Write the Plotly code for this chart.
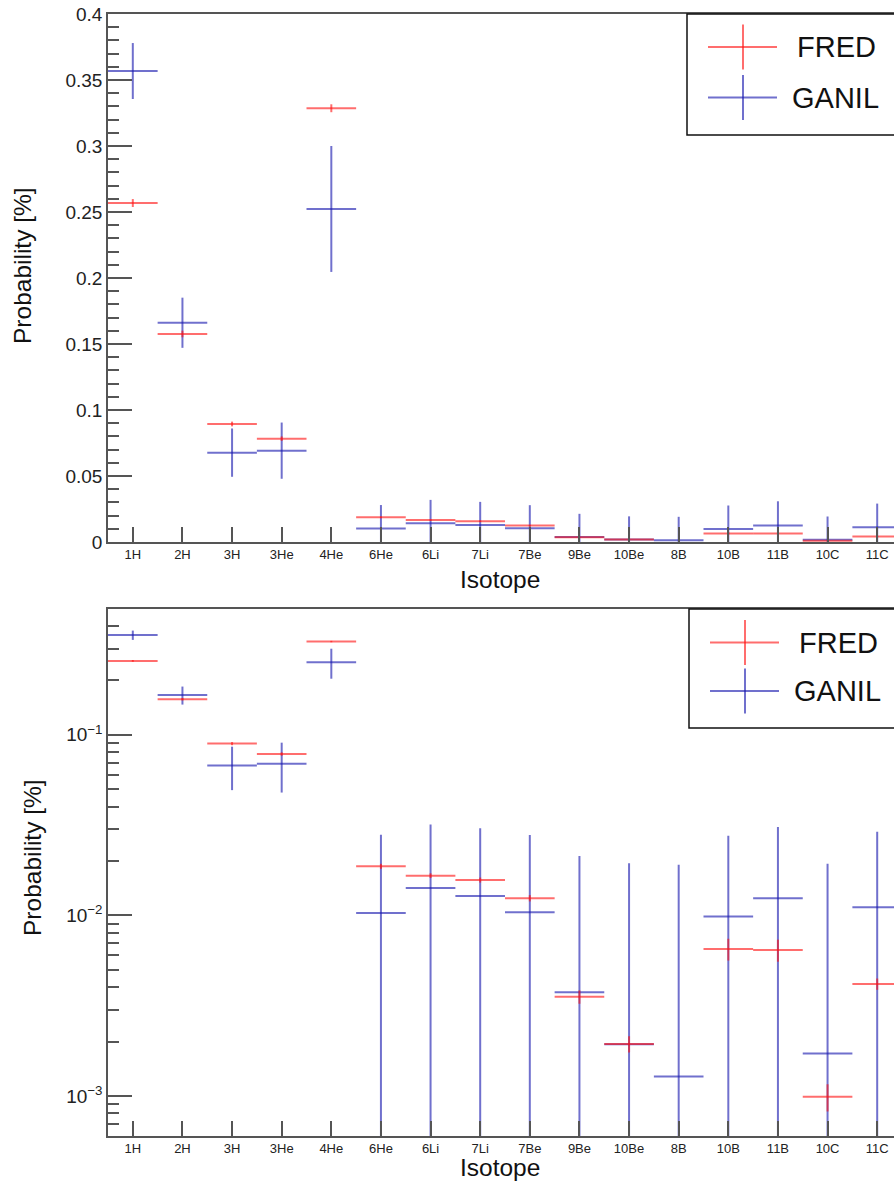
import plotly.graph_objects as go

# Isotope production probabilities: FRED simulation vs GANIL measurement
isotopes = ["1H", "2H", "3H", "3He", "4He", "6He", "6Li", "7Li", "7Be",
            "9Be", "10Be", "8B", "10B", "11B", "10C", "11C"]

fred = [0.2568, 0.1576, 0.0894, 0.0783, 0.3286, 0.0187, 0.0166, 0.0157, 0.01245,
        0.00354, 0.00194, None, 0.00652, 0.00644, 0.00099, 0.00417]
fred_err = [0.0030, 0.0025, 0.0018, 0.0017, 0.0030, 0.0006, 0.0005, 0.0005, 0.0005,
            0.0003, 0.0002, 0.0, 0.0009, 0.0009, 0.00017, 0.0003]

ganil = [0.3568, 0.1661, 0.0677, 0.0692, 0.2523, 0.0103, 0.0142, 0.0128, 0.0104,
         0.00375, 0.00193, 0.00128, 0.00985, 0.01245, 0.00172, 0.0111]
ganil_err = [0.0212, 0.0190, 0.0183, 0.0213, 0.0477, 0.0177, 0.0177, 0.0176, 0.0175,
             0.0176, 0.0175, 0.0178, 0.0178, 0.0184, 0.0176, 0.0180]

# decade ticks of the logarithmic panel
log_tick_vals = [0.001, 0.01, 0.1]
log_tick_text = ["10<sup>\u22123</sup>", "10<sup>\u22122</sup>", "10<sup>\u22121</sup>"]

RED = "rgba(255,20,20,0.62)"
BLUE = "rgba(25,25,175,0.62)"
AXIS = "#555555"
FONT = "Liberation Sans, Arial, Helvetica, sans-serif"

W, H = 930, 1182
ML, MR, MT, MB = 108, 28, 14, 46
PW, PH = W - ML - MR, H - MT - MB


def px(x):
    """pixel column -> paper x"""
    return (x - ML) / PW


def py(y):
    """pixel row -> paper y"""
    return (H - MB - y) / PH


xs = list(range(len(isotopes)))
half_bin = [0.5] * len(isotopes)


def hist_trace(vals, errs, color, xa, ya):
    return go.Scatter(
        x=xs, y=vals, xaxis=xa, yaxis=ya, mode="markers",
        marker=dict(size=0.1, color=color), showlegend=False, hoverinfo="skip",
        error_x=dict(type="data", array=half_bin, symmetric=True, width=0,
                     thickness=2, color=color),
        error_y=dict(type="data", array=errs, symmetric=True, width=0,
                     thickness=2, color=color),
    )


fig = go.Figure()
for xa, ya in (("x", "y"), ("x2", "y2")):
    fig.add_trace(hist_trace(ganil, ganil_err, BLUE, xa, ya))
    fig.add_trace(hist_trace(fred, fred_err, RED, xa, ya))

top_dom = [py(542), py(14)]
bot_dom = [py(1136), py(609)]

xcommon = dict(
    range=[-0.5, len(isotopes) - 0.5], tickmode="array", tickvals=xs, ticktext=isotopes,
    ticks="inside", ticklen=15, tickwidth=1.5, tickcolor=AXIS,
    showline=True, linecolor=AXIS, linewidth=1.5, mirror=True,
    showgrid=False, zeroline=False, automargin=False,
    tickfont=dict(family=FONT, size=13, color="#222"),
)

minor_log = [m * 10.0 ** e for e in (-4, -3, -2, -1) for m in range(2, 10)]

fig.update_layout(
    width=W, height=H,
    margin=dict(l=ML, r=MR, t=MT, b=MB, pad=0, autoexpand=False),
    paper_bgcolor="white", plot_bgcolor="white",
    font=dict(family=FONT, color="#222"),
    xaxis=dict(domain=[0, 1], anchor="y", **xcommon),
    xaxis2=dict(domain=[0, 1], anchor="y2", **xcommon),
    yaxis=dict(
        domain=top_dom, anchor="x", range=[0, 0.4], tickmode="linear", tick0=0, dtick=0.05,
        ticks="inside", ticklen=24, tickwidth=1.5, tickcolor=AXIS,
        minor=dict(dtick=0.01, ticks="inside", ticklen=11, tickwidth=1.5, tickcolor=AXIS),
        showline=True, linecolor=AXIS, linewidth=1.5, mirror=True,
        showgrid=False, zeroline=False, automargin=False,
        tickfont=dict(family=FONT, size=19, color="#222"),
    ),
    yaxis2=dict(
        domain=bot_dom, anchor="x2", type="log", range=[-3.222, -0.303],
        tickmode="array", tickvals=log_tick_vals, ticktext=log_tick_text,
        ticks="inside", ticklen=24, tickwidth=1.5, tickcolor=AXIS,
        minor=dict(tickmode="array", tickvals=minor_log, ticks="inside", ticklen=11,
                   tickwidth=1.5, tickcolor=AXIS),
        showline=True, linecolor=AXIS, linewidth=1.5, mirror=True,
        showgrid=False, zeroline=False, automargin=False,
        tickfont=dict(family=FONT, size=19, color="#222"),
    ),
)

annotations = []
shapes = []

# axis titles
for ty in (580, 1167):
    annotations.append(dict(text="Isotope", x=px(500), y=py(ty), xref="paper", yref="paper",
                            xanchor="center", yanchor="middle", showarrow=False,
                            font=dict(family=FONT, size=24.5, color="#111")))
for tx, ty in ((22, 266), (32, 858)):
    annotations.append(dict(text="Probability [%]", x=px(tx), y=py(ty), xref="paper",
                            yref="paper", xanchor="center", yanchor="middle",
                            textangle=-90, showarrow=False,
                            font=dict(family=FONT, size=24.5, color="#111")))

# legend boxes with error-bar crosses
for top, bottom, y_fred, y_ganil, left in ((14, 135, 47, 97.5, 687), (609, 728, 642.5, 691, 689)):
    shapes.append(dict(type="rect", xref="paper", yref="paper",
                       x0=px(left), x1=px(902), y0=py(bottom), y1=py(top),
                       line=dict(color="#111", width=1.5), fillcolor="white", layer="above"))
    cx = left + 56
    for yc, color, label in ((y_fred, RED, "FRED"), (y_ganil, BLUE, "GANIL")):
        shapes.append(dict(type="line", xref="paper", yref="paper",
                           x0=px(cx - 35), x1=px(cx + 34), y0=py(yc), y1=py(yc),
                           line=dict(color=color, width=2), layer="above"))
        shapes.append(dict(type="line", xref="paper", yref="paper",
                           x0=px(cx), x1=px(cx), y0=py(yc - 22.5), y1=py(yc + 22.5),
                           line=dict(color=color, width=2), layer="above"))
        annotations.append(dict(text=label, x=px(left + (108 if label == "FRED" else 103)),
                                y=py(yc), xref="paper", yref="paper",
                                xanchor="left", yanchor="middle", showarrow=False,
                                font=dict(family=FONT, size=29, color="#111")))

fig.update_layout(annotations=annotations, shapes=shapes)

fig.write_html(
    "out.html",
    post_script="document.body.style.margin='0';document.body.style.overflow='hidden';"
                "document.documentElement.style.overflow='hidden';",
)
